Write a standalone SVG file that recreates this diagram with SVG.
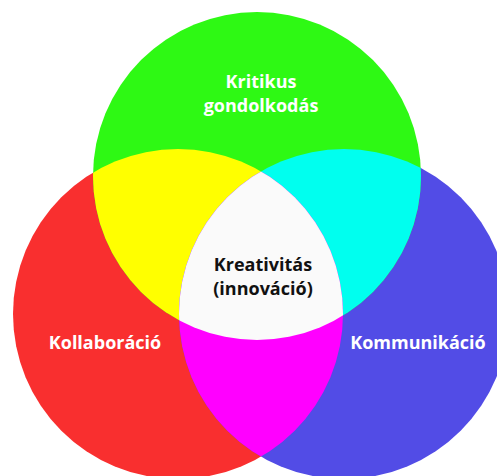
<svg xmlns="http://www.w3.org/2000/svg" width="497" height="476" viewBox="0 0 497 476">
  <style>
    .lbl { font-family: "Open Sans", "Liberation Sans", sans-serif; font-weight: bold; font-size: 18px; text-anchor: middle; }
    .w { fill: #ffffff; }
    .k { fill: #111111; }
  </style>
  <defs>
    <circle id="cG" cx="257" cy="176" r="164"/>
    <circle id="cR" cx="178" cy="314" r="165"/>
    <circle id="cB" cx="344" cy="314" r="165"/>
    <clipPath id="clipG"><use href="#cG"/></clipPath>
    <clipPath id="clipR"><use href="#cR"/></clipPath>
    <clipPath id="clipB"><use href="#cB"/></clipPath>
  </defs>
  <rect width="497" height="476" fill="#ffffff"/>

  <!-- base circles -->
  <g id="kollaboracio">
    <use href="#cR" fill="#f92f2f"/>
  </g>
  <g id="kommunikacio">
    <use href="#cB" fill="#524ce6"/>
  </g>
  <g id="kritikus">
    <use href="#cG" fill="#2ef914"/>
  </g>

  <!-- pairwise overlaps -->
  <g id="overlaps">
    <g clip-path="url(#clipR)"><use href="#cG" fill="#ffff00"/></g>
    <g clip-path="url(#clipB)"><use href="#cG" fill="#00ffef"/></g>
    <g clip-path="url(#clipR)"><use href="#cB" fill="#ff00ff"/></g>
  </g>

  <!-- triple overlap -->
  <g id="kreativitas">
    <g clip-path="url(#clipG)">
      <g clip-path="url(#clipB)">
        <use href="#cR" fill="#fafafa"/>
      </g>
    </g>
  </g>

  <!-- labels -->
  <g id="labels">
    <text class="lbl w" x="261" y="88">Kritikus</text>
    <text class="lbl w" x="261" y="112">gondolkodás</text>
    <text class="lbl k" x="263" y="271">Kreativitás</text>
    <text class="lbl k" x="263" y="295">(innováció)</text>
    <text class="lbl w" x="105" y="349">Kollaboráció</text>
    <text class="lbl w" x="418" y="349">Kommunikáció</text>
  </g>
</svg>
